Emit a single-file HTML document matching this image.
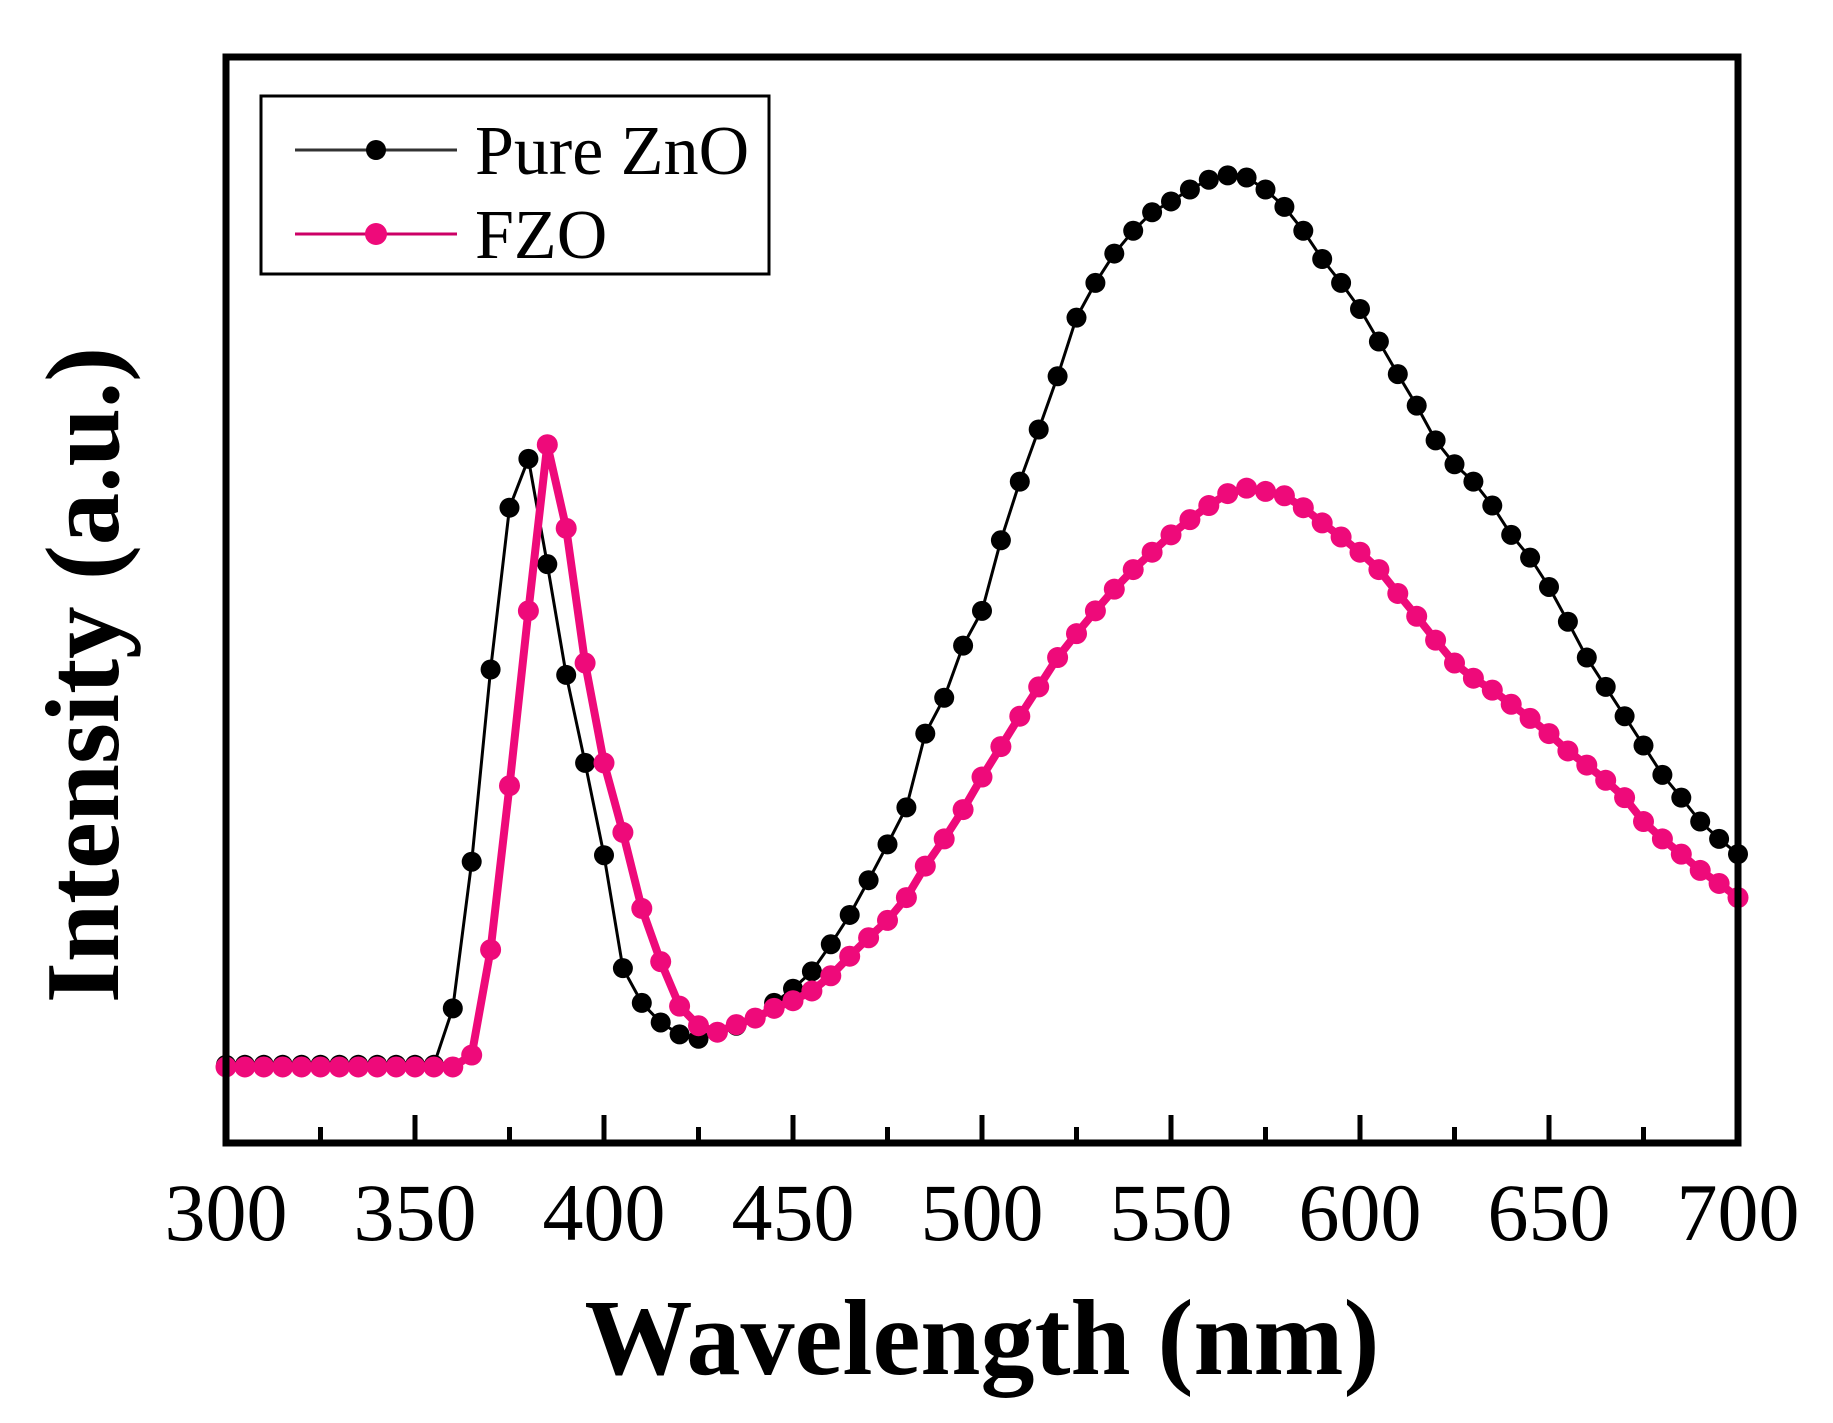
<!DOCTYPE html>
<html><head><meta charset="utf-8"><style>body{margin:0;background:#fff}svg{display:block}</style></head><body>
<svg id="c" width="1833" height="1423" viewBox="0 0 1833 1423" xmlns="http://www.w3.org/2000/svg">
<rect x="0" y="0" width="1833" height="1423" fill="#fff"/>
<g id="series"></g>
<rect x="226" y="57" width="1512" height="1086" fill="none" stroke="#000" stroke-width="7"/>
<g id="ticks"></g>
<text x="982" y="1374" text-anchor="middle" font-family="Liberation Serif, serif" font-weight="bold" font-size="108">Wavelength (nm)</text>
<text transform="translate(118,675) rotate(-90)" text-anchor="middle" font-family="Liberation Serif, serif" font-weight="bold" font-size="105">Intensity (a.u.)</text>
<g>
<rect x="261" y="96" width="508" height="178" fill="#fff" stroke="#000" stroke-width="3"/>
<g>
<line x1="295" y1="150" x2="457" y2="150" stroke="#333" stroke-width="3"/>
<circle cx="376" cy="150" r="10" fill="#000"/>
<text x="475" y="174" font-family="Liberation Serif, serif" font-size="70">Pure ZnO</text></g>
<g>
<line x1="295" y1="234" x2="457" y2="234" stroke="#c06" stroke-width="3"/>
<circle cx="376" cy="234" r="11" fill="#ee0a7a"/>
<text x="475" y="258" font-family="Liberation Serif, serif" font-size="70">FZO</text></g>
</g>
</svg>
<script>
const wavelengths = [];
for (let w = 300; w <= 700; w += 5) wavelengths.push(w);
const pureZnO = [7.2,7.2,7.2,7.2,7.2,7.2,7.2,7.2,7.2,7.2,7.2,7.2,12.4,25.9,43.6,58.5,63,53.3,43.1,35,26.5,16.1,12.9,11.1,10,9.6,10.2,10.8,11.5,12.9,14.2,15.8,18.3,21,24.2,27.5,30.9,37.7,41,45.8,49,55.5,60.9,65.7,70.6,76,79.2,81.9,84,85.7,86.7,87.8,88.7,89.1,88.9,87.8,86.2,84,81.4,79.2,76.8,73.8,70.8,67.9,64.7,62.5,60.9,58.7,56,53.9,51.2,48,44.7,42,39.3,36.6,33.9,31.8,29.6,28,26.6];
const fzo = [7,7,7,7,7,7,7,7,7,7,7,7,7,8.1,17.8,32.9,49,64.3,56.6,44.2,35,28.6,21.6,16.7,12.6,10.8,10.2,10.9,11.5,12.4,13.1,14,15.4,17.2,18.9,20.5,22.6,25.5,28,30.7,33.7,36.5,39.3,42,44.7,46.9,49,51,52.8,54.4,56,57.4,58.7,59.8,60.3,60,59.6,58.5,57.1,55.8,54.4,52.8,50.6,48.5,46.3,44.2,42.8,41.7,40.4,39.1,37.7,36.1,34.8,33.4,31.8,29.6,28,26.6,25.1,23.9,22.6];
const xTicks = [300,350,400,450,500,550,600,650,700];
const xMinor = [325,375,425,475,525,575,625,675];
const NS='http://www.w3.org/2000/svg';
const X0=226,X1=1738,Y0=1143,Y1=57;
function xs(w){return X0+(w-300)/400*(X1-X0);}
function ys(v){return Y0-v/100*(Y0-Y1);}
const g=document.getElementById('series');
function draw(vals,color,lw,r,name){
  const grp=document.createElementNS(NS,'g');
  
  
  const p=document.createElementNS(NS,'path');
  p.setAttribute('d',vals.map((v,i)=>(i?'L':'M')+xs(wavelengths[i]).toFixed(1)+' '+ys(v).toFixed(1)).join(''));
  p.setAttribute('fill','none');p.setAttribute('stroke',color);p.setAttribute('stroke-width',lw);p.setAttribute('stroke-linejoin','round');
  
  
  grp.appendChild(p);
  vals.forEach((v,i)=>{
    const c=document.createElementNS(NS,'circle');
    c.setAttribute('cx',xs(wavelengths[i]));c.setAttribute('cy',ys(v));c.setAttribute('r',r);c.setAttribute('fill',color);
    
    
    grp.appendChild(c);
  });
  g.appendChild(grp);
}
draw(pureZnO,'#000',3,10,'pure-zno-series');
draw(fzo,'#ee0a7a',8,10.5,'fzo-series');
const t=document.getElementById('ticks');
xTicks.forEach(w=>{
  const l=document.createElementNS(NS,'line');
  l.setAttribute('x1',xs(w));l.setAttribute('x2',xs(w));l.setAttribute('y1',Y0);l.setAttribute('y2',Y0-28);
  l.setAttribute('stroke','#000');l.setAttribute('stroke-width',5);
  
  
  t.appendChild(l);
  const tx=document.createElementNS(NS,'text');
  tx.setAttribute('x',xs(w));tx.setAttribute('y',1240);tx.setAttribute('text-anchor','middle');
  tx.setAttribute('font-family','Liberation Serif, serif');tx.setAttribute('font-size','82');
  tx.textContent=w;
  
  
  t.appendChild(tx);
});
xMinor.forEach(w=>{
  const l=document.createElementNS(NS,'line');
  l.setAttribute('x1',xs(w));l.setAttribute('x2',xs(w));l.setAttribute('y1',Y0);l.setAttribute('y2',Y0-16);
  l.setAttribute('stroke','#000');l.setAttribute('stroke-width',5);
  
  
  t.appendChild(l);
});
</script>
</body></html>
